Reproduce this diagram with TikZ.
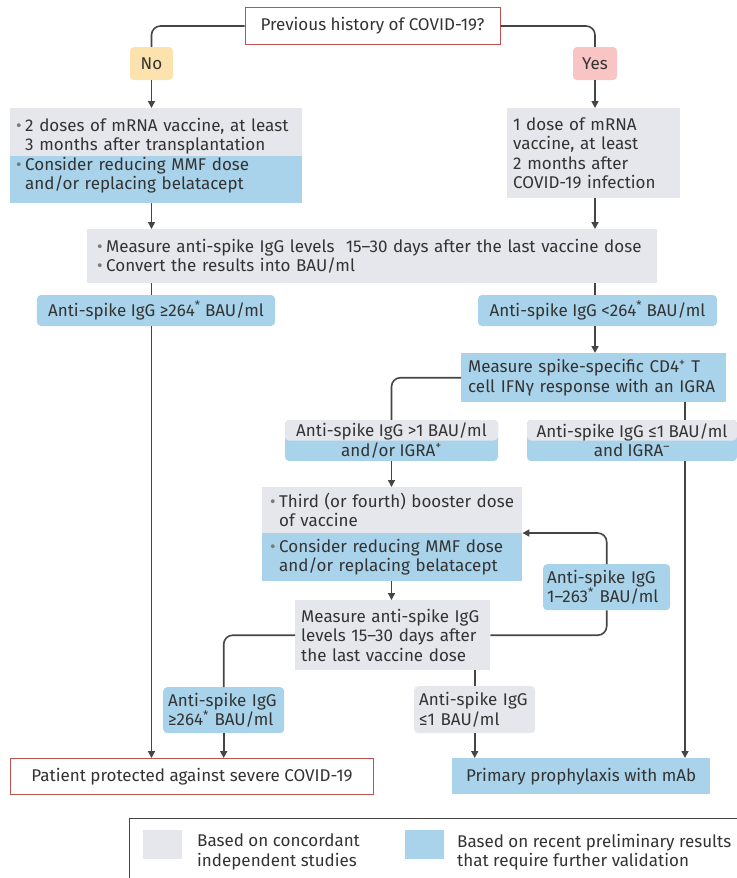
\documentclass[tikz,border=0pt]{standalone}
\usepackage{fontspec}
\setmainfont{Fira Sans}
\usetikzlibrary{arrows.meta,positioning}
\definecolor{boxgrey}{HTML}{E6E7EC}
\definecolor{boxblue}{HTML}{A9D3EA}
\definecolor{noorange}{HTML}{FCE3AE}
\definecolor{yespink}{HTML}{F8C4C4}
\definecolor{framered}{HTML}{C0504D}
\definecolor{linegrey}{HTML}{454545}
\definecolor{txtgrey}{HTML}{333333}
\definecolor{bulgrey}{HTML}{7A7A7A}
\newcommand{\bul}{\makebox[9bp][l]{\textcolor{bulgrey}{•}}}
\newcommand{\ind}{\hspace*{9bp}}
\tikzset{
  link/.style={draw=linegrey,line width=1.6bp,rounded corners=9bp},
  arr/.style={link,-{Triangle[length=7bp,width=7bp]}},
  greyblk/.style={fill=boxgrey,anchor=north west,align=left,inner xsep=6bp,inner ysep=0bp},
  blueblk/.style={greyblk,fill=boxblue},
  splitblk/.style={blueblk,
    path picture={\fill[boxgrey] (path picture bounding box.north west) rectangle (path picture bounding box.east);}},
  tag/.style={rounded corners=4bp,inner sep=0bp},
  framebox/.style={draw=framered,fill=white,line width=1bp,inner sep=0bp},
  halfbox/.style={tag,fill=boxblue,align=center,
    path picture={\fill[boxgrey] (path picture bounding box.north west) rectangle (path picture bounding box.east);}}
}
\begin{document}
\begin{tikzpicture}[x=1bp,y=-1bp,font=\fontsize{17bp}{19.3bp}\selectfont,text=txtgrey]
\useasboundingbox (0,0) rectangle (737,878);
% question and answers
\node[framebox,minimum width=255bp,minimum height=36bp] (hist) at (372.5,26) {Previous history of COVID-19?};
\node[tag,fill=noorange,minimum width=43bp,minimum height=33bp] (no) at (151.5,63.5) {No};
\node[tag,fill=yespink,minimum width=44bp,minimum height=33bp] (yes) at (595,63.5) {Yes};
% vaccination
\node[splitblk,inner xsep=6bp,minimum width=292bp,text width=280bp,minimum height=95bp] (twodose) at (10,108) {\mbox{\bul 2 doses of mRNA vaccine, at least}\\\ind 3 months after transplantation\\\bul Consider reducing MMF dose\\\ind and/or replacing belatacept};
\node[greyblk,minimum width=173bp,text width=161bp,minimum height=90bp] (onedose) at (507,108) {1 dose of mRNA\\vaccine, at least\\2 months after\\COVID-19 infection};
\node[greyblk,inner xsep=10bp,minimum width=570bp,text width=550bp,minimum height=54bp] (measure) at (87,229) {\mbox{\bul Measure anti-spike IgG levels \ 15–30 days after the last vaccine dose}\\\bul Convert the results into BAU/ml};
% first result
\node[tag,fill=boxblue,minimum width=238bp,minimum height=31bp] (igghi) at (156,310.5) {Anti-spike IgG ≥264\textsuperscript{*} BAU/ml};
\node[tag,fill=boxblue,minimum width=239bp,minimum height=31bp] (igglo) at (597.5,310.5) {Anti-spike IgG <264\textsuperscript{*} BAU/ml};
\node[blueblk,inner xsep=7bp,minimum width=265bp,text width=251bp,minimum height=49bp] (igra) at (461,353) {Measure spike-specific CD4\textsuperscript{+} T\\cell IFNγ response with an IGRA};
\node[halfbox,minimum width=213bp,minimum height=41bp] (pos) at (391.5,440.5) {Anti-spike IgG >1 BAU/ml\\and/or IGRA\textsuperscript{+}};
\node[halfbox,minimum width=210bp,minimum height=41bp] (neg) at (632,440.5) {Anti-spike IgG ≤1 BAU/ml\\and IGRA\textsuperscript{–}};
\coordinate (colR) at (685,0);
% booster
\node[greyblk,inner xsep=8bp,minimum width=260bp,text width=244bp,minimum height=46bp] (boostA) at (262,487) {\mbox{\bul Third (or fourth) booster dose}\\\ind of vaccine};
\node[blueblk,inner xsep=8bp,minimum width=260bp,text width=244bp,minimum height=48bp] (boostB) at (262,533) {\mbox{\bul Consider reducing MMF dose}\\\ind and/or replacing belatacept};
\node[greyblk,minimum width=195bp,text width=183bp,minimum height=70bp] (meas2) at (295,600) {Measure anti-spike IgG\\levels 15–30 days after\\the last vaccine dose};
\node[blueblk,tag,inner xsep=4bp,minimum width=127bp,text width=119bp,minimum height=46bp] (retry) at (543,564) {Anti-spike IgG\\1–263\textsuperscript{*} BAU/ml};
\node[blueblk,tag,inner xsep=5bp,minimum width=121bp,text width=111bp,minimum height=46bp] (ge) at (163,687) {Anti-spike IgG\\≥264\textsuperscript{*} BAU/ml};
\node[greyblk,tag,inner xsep=5bp,minimum width=121bp,text width=111bp,minimum height=47bp] (le) at (414,686) {Anti-spike IgG\\≤1 BAU/ml};
% outcomes
\node[framebox,anchor=north west,minimum width=363bp,minimum height=36bp] (protect) at (10,758) {Patient protected against severe COVID-19};
\node[fill=boxblue,anchor=north west,inner sep=0bp,minimum width=258bp,minimum height=36bp] (mab) at (452,758) {Primary prophylaxis with mAb};
% connectors
\draw[link] (hist.west) -| (no.north);
\draw[link] (hist.east) -| (yes.north);
\draw[arr] (no.south) -- (no.south |- twodose.north);
\draw[arr] (yes.south) -- (yes.south |- onedose.north);
\draw[arr] (no |- twodose.south) -- (no |- measure.north);
\draw[arr] (yes |- onedose.south) -- (yes |- measure.north);
\draw[link] (no |- measure.south) -- (no |- igghi.north);
\draw[link] (yes |- measure.south) -- (yes |- igglo.north);
\draw[arr] (no |- igghi.south) -- (no |- protect.north);
\draw[arr] (yes |- igglo.south) -- (yes |- igra.north);
\draw[link] (igra.west) -| (pos.north);
\draw[link] (colR |- igra.south) -- (colR |- neg.north);
\draw[arr] (colR |- neg.south) -- (colR |- mab.north);
\draw[arr] (pos.south) -- (pos.south |- boostA.north);
\draw[arr] (pos.south |- boostB.south) -- (pos.south |- meas2.north);
\draw[link] (meas2.east) -| (retry.south);
\draw[arr] (retry.north) |- (boostB.north east);
\draw[link] (meas2.west) -| (ge.north);
\draw[arr] (ge.south) -- (ge.south |- protect.north);
\draw[link] (le.north |- meas2.south) -- (le.north);
\draw[arr] (le.south) -- (le.south |- mab.north);
% legend
\draw[linegrey,line width=1bp] (129,818) rectangle (760,900);
\node[fill=boxgrey,anchor=north west,minimum width=39bp,minimum height=29bp,inner sep=0bp] (swgrey) at (143,830) {};
\node[anchor=west,align=left,inner sep=0bp] (lgrey) at (197,852) {Based on concordant\\independent studies};
\node[fill=boxblue,anchor=north west,minimum width=39bp,minimum height=29bp,inner sep=0bp] (swblue) at (405,830) {};
\node[anchor=west,align=left,inner sep=0bp] (lblue) at (457,852) {Based on recent preliminary results\\that require further validation};
\end{tikzpicture}
\end{document}
